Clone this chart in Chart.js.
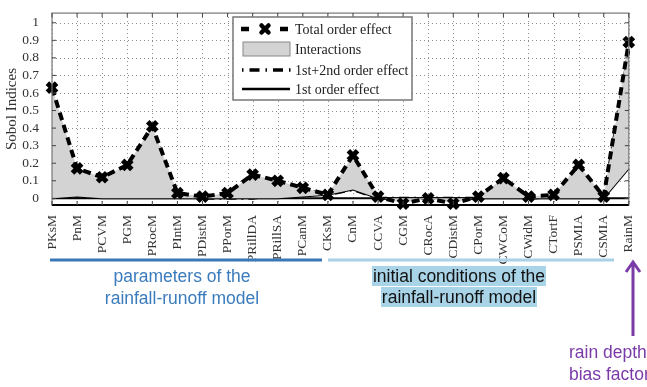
<!DOCTYPE html>
<html>
<head>
<meta charset="utf-8">
<script src="https://cdn.jsdelivr.net/npm/chart.js@4.4.0/dist/chart.umd.min.js"></script>
<style>
  body { margin: 0; background: #fff; }
  #wrap { position: relative; width: 647px; height: 387px; overflow: hidden; }
  canvas { position: absolute; left: 0; top: 0; }
  .note { position: absolute; font-family: 'Liberation Sans', Arial, sans-serif; font-size: 17.5px; line-height: 22px; white-space: nowrap; }
  .blue { color: #3a7bbd; text-align: center; }
  .ic span { background: #a9d3e7; color: #111; padding: 0 1px; }
  .purple { color: #7a3aa8; }
</style>
</head>
<body>
<div id="wrap">
  <canvas id="c" width="647" height="387"></canvas>
  <div class="note blue" style="left:62px; top:265px; width:240px;">parameters of the<br>rainfall-runoff model</div>
  <div class="note ic" style="left:339px; top:266px; width:240px; line-height:21px; text-align:center;"><span>initial conditions of the</span><br><span>rainfall-runoff model</span></div>
  <div class="note purple" style="left:569px; top:341px;">rain depth<br>bias factor</div>
</div>
<script>
// parameter names along the x axis
const labels = ['PKsM', 'PnM', 'PCVM', 'PGM', 'PRocM', 'PIntM', 'PDistM', 'PPorM', 'PRillDA', 'PRillSA', 'PCanM',
  'CKsM', 'CnM', 'CCVA', 'CGM', 'CRocA', 'CDistM', 'CPorM', 'CWCoM', 'CWidM', 'CTortF', 'PSMIA', 'CSMIA', 'RainM'];

// Sobol indices
const totalOrder = [0.63, 0.17, 0.12, 0.19, 0.41, 0.03, 0.01, 0.03, 0.135, 0.10, 0.06,
  0.02, 0.245, 0.01, -0.03, 0.00, -0.03, 0.01, 0.115, 0.01, 0.02, 0.19, 0.01, 0.89];
const firstSecond = [0.20, 0.17, 0.08, 0.05, 0.16, 0.01, 0.00, 0.00, 0.00, 0.02, 0.05,
  0.02, 0.05, 0.00, 0.00, 0.00, 0.00, 0.00, 0.02, 0.00, 0.01, 0.04, 0.00, 0.84];
const firstOrder = [0.00, 0.01, 0.00, 0.00, 0.00, 0.00, 0.00, 0.00, 0.00, 0.00, 0.01,
  0.02, 0.05, 0.00, 0.00, 0.00, 0.00, 0.00, 0.00, 0.00, 0.00, 0.00, 0.00, 0.17];

const yTicks = [0, 0.1, 0.2, 0.3, 0.4, 0.5, 0.6, 0.7, 0.8, 0.9, 1];
const legendNames = ['Total order effect', 'Interactions', '1st+2nd order effect', '1st order effect'];

const serif = "'Liberation Serif', 'Times New Roman', serif";

function drawX(ctx, x, y, r, w) {
  ctx.save();
  ctx.lineWidth = w;
  ctx.lineCap = 'round';
  ctx.strokeStyle = '#000';
  ctx.beginPath();
  ctx.moveTo(x - r, y - r); ctx.lineTo(x + r, y + r);
  ctx.moveTo(x + r, y - r); ctx.lineTo(x - r, y + r);
  ctx.stroke();
  ctx.restore();
}

const decor = {
  id: 'decor',
  beforeDatasetsDraw(chart) {
    const { ctx, chartArea: a, scales: { x, y } } = chart;
    ctx.save();
    // dotted grid
    ctx.strokeStyle = '#8a8a8a';
    ctx.lineWidth = 1;
    ctx.setLineDash([1, 3]);
    ctx.beginPath();
    labels.forEach((_, i) => {
      const px = Math.round(x.getPixelForValue(i)) + 0.5;
      ctx.moveTo(px, a.top); ctx.lineTo(px, a.bottom);
    });
    yTicks.forEach(v => {
      const py = Math.round(y.getPixelForValue(v)) + 0.5;
      ctx.moveTo(a.left, py); ctx.lineTo(a.right, py);
    });
    ctx.stroke();
    ctx.setLineDash([]);
    // zero line
    ctx.strokeStyle = '#000';
    ctx.lineWidth = 2;
    ctx.beginPath();
    ctx.moveTo(a.left, y.getPixelForValue(0));
    ctx.lineTo(a.right, y.getPixelForValue(0));
    ctx.stroke();
    ctx.restore();
  },
  afterDraw(chart) {
    const { ctx, chartArea: a, scales: { x, y } } = chart;
    ctx.save();
    // frame
    ctx.strokeStyle = '#777';
    ctx.lineWidth = 1.2;
    ctx.strokeRect(a.left, a.top, a.right - a.left, a.bottom - a.top);
    ctx.strokeStyle = '#000';
    ctx.lineWidth = 2;
    ctx.beginPath(); ctx.moveTo(a.left, a.bottom); ctx.lineTo(a.right, a.bottom); ctx.stroke();
    // inward ticks
    ctx.strokeStyle = '#444';
    ctx.lineWidth = 1;
    ctx.beginPath();
    labels.forEach((_, i) => {
      const px = x.getPixelForValue(i);
      ctx.moveTo(px, a.top); ctx.lineTo(px, a.top + 4);
      ctx.moveTo(px, a.bottom); ctx.lineTo(px, a.bottom - 4);
    });
    yTicks.forEach(v => {
      const py = y.getPixelForValue(v);
      ctx.moveTo(a.left, py); ctx.lineTo(a.left + 4, py);
      ctx.moveTo(a.right, py); ctx.lineTo(a.right - 4, py);
    });
    ctx.stroke();

    // legend
    const lx = 233, ly = 17, lw = 179, lh = 83;
    ctx.fillStyle = '#fff';
    ctx.fillRect(lx, ly, lw, lh);
    ctx.strokeStyle = '#777';
    ctx.lineWidth = 1.5;
    ctx.strokeRect(lx, ly, lw, lh);
    const rows = [29, 49, 70, 89];
    // total order sample
    ctx.strokeStyle = '#000';
    ctx.lineWidth = 4.5;
    ctx.beginPath();
    ctx.moveTo(241, rows[0]); ctx.lineTo(249, rows[0]);
    ctx.moveTo(280, rows[0]); ctx.lineTo(288, rows[0]);
    ctx.stroke();
    drawX(ctx, 265, rows[0], 3.5, 4.5);
    // interactions box
    ctx.fillStyle = '#d3d3d3';
    ctx.fillRect(243, rows[1] - 7, 47, 14);
    ctx.strokeStyle = '#888';
    ctx.lineWidth = 1;
    ctx.strokeRect(243, rows[1] - 7, 47, 14);
    // 1st+2nd sample
    ctx.strokeStyle = '#000';
    ctx.lineWidth = 3.5;
    ctx.setLineDash([1.5, 6, 10, 6]);
    ctx.beginPath(); ctx.moveTo(242, rows[2]); ctx.lineTo(291, rows[2]); ctx.stroke();
    ctx.setLineDash([]);
    // 1st sample
    ctx.lineWidth = 2.5;
    ctx.beginPath(); ctx.moveTo(242, rows[3]); ctx.lineTo(290, rows[3]); ctx.stroke();
    ctx.fillStyle = '#222';
    ctx.font = '14px ' + serif;
    ctx.textBaseline = 'middle';
    legendNames.forEach((t, i) => ctx.fillText(t, 295, rows[i] + 1));

    // annotation lines
    ctx.lineWidth = 3;
    ctx.strokeStyle = '#3a78b8';
    ctx.beginPath(); ctx.moveTo(50, 260); ctx.lineTo(322, 260); ctx.stroke();
    ctx.strokeStyle = '#a9d2e7';
    ctx.beginPath(); ctx.moveTo(328, 260); ctx.lineTo(614, 260); ctx.stroke();
    // purple arrow
    ctx.strokeStyle = '#7a3aa8';
    ctx.lineWidth = 3;
    ctx.beginPath();
    ctx.moveTo(633, 336); ctx.lineTo(633, 262);
    ctx.moveTo(626, 272); ctx.lineTo(633, 262); ctx.lineTo(640, 272);
    ctx.stroke();
    ctx.restore();
  }
};

new Chart(document.getElementById('c'), {
  type: 'line',
  data: {
    labels: labels,
    datasets: [
      {
        label: 'Total order effect',
        data: totalOrder,
        borderColor: '#000',
        borderWidth: 4,
        borderDash: [8, 5],
        backgroundColor: '#d3d3d3',
        fill: { target: 2 },
        pointStyle: 'crossRot',
        pointRadius: 6.5,
        pointBorderWidth: 5,
        pointBorderColor: '#000',
        tension: 0,
        clip: false
      },
      {
        label: '1st+2nd order effect',
        data: firstSecond,
        borderColor: '#000',
        borderWidth: 3,
        borderDash: [10, 5, 2, 5],
        pointRadius: 0,
        fill: false,
        tension: 0
      },
      {
        label: '1st order effect',
        data: firstOrder,
        borderColor: '#000',
        borderWidth: 2,
        pointRadius: 0,
        fill: false,
        tension: 0
      }
    ]
  },
  options: {
    responsive: false,
    animation: false,
    layout: { padding: { top: 5, right: 14, left: 0, bottom: 0 } },
    plugins: { legend: { display: false }, tooltip: { enabled: false } },
    scales: {
      x: {
        type: 'category',
        offset: false,
        afterFit(s) { s.height = 182; },
        grid: { display: false },
        border: { display: false },
        ticks: {
          autoSkip: false, maxRotation: 90, minRotation: 90, padding: 2,
          color: '#333', font: { family: serif, size: 13.5 }
        }
      },
      y: {
        min: -0.038,
        max: 1.055,
        afterFit(s) { s.width = 52; },
        afterBuildTicks(s) { s.ticks = yTicks.map(v => ({ value: v })); },
        grid: { display: false },
        border: { display: false },
        ticks: {
          autoSkip: false, padding: 5, color: '#333', font: { family: serif, size: 13.5 },
          callback: v => String(Math.round(v * 10) / 10)
        },
        title: { display: true, text: 'Sobol Indices', color: '#333', font: { family: serif, size: 15 }, padding: { top: 3, bottom: 0 } }
      }
    }
  },
  plugins: [decor]
});
</script>
</body>
</html>
